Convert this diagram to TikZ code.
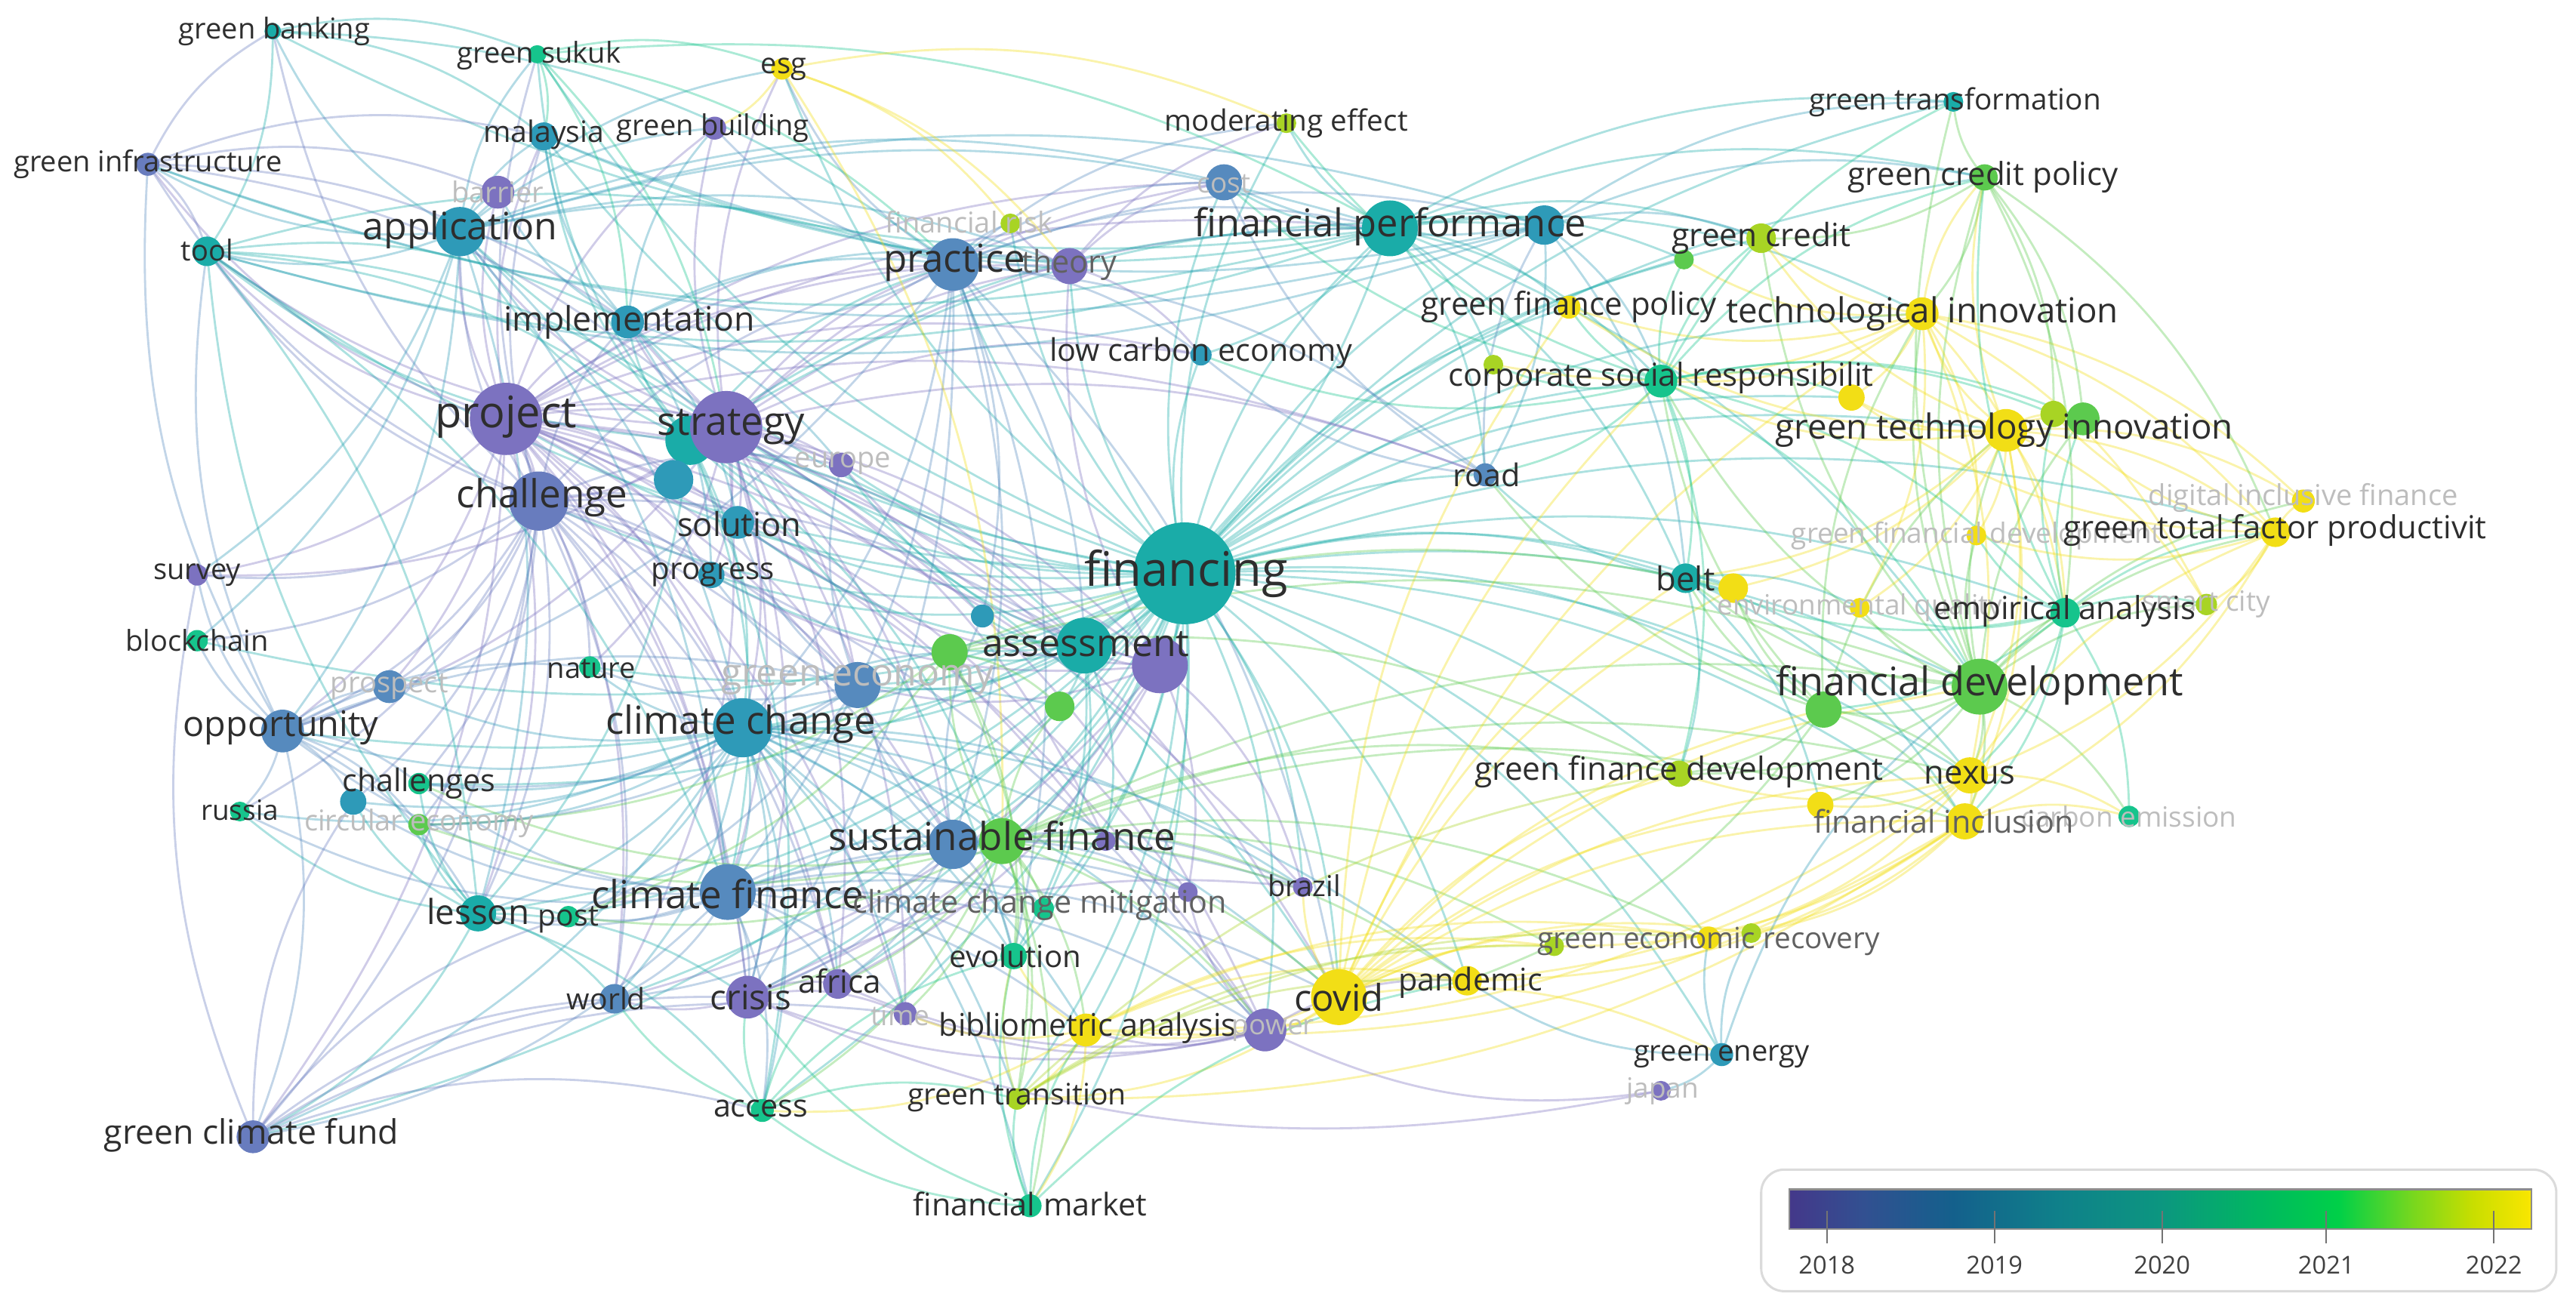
\documentclass[tikz,border=0pt]{standalone}
\usepackage{fontspec}
\setmainfont{Open Sans}
\definecolor{y18}{RGB}{124,114,192}
\definecolor{y185}{RGB}{104,124,190}
\definecolor{y19}{RGB}{86,138,190}
\definecolor{y195}{RGB}{46,154,184}
\definecolor{y20}{RGB}{26,172,168}
\definecolor{y205}{RGB}{22,196,140}
\definecolor{y21}{RGB}{92,202,78}
\definecolor{y215}{RGB}{168,212,36}
\definecolor{y22}{RGB}{242,222,22}
% legend bar colours
\definecolor{lgA}{RGB}{68,56,138}
\definecolor{lgB}{RGB}{50,80,145}
\definecolor{lgC}{RGB}{20,96,140}
\definecolor{lgD}{RGB}{15,128,138}
\definecolor{lgE}{RGB}{12,150,128}
\definecolor{lgF}{RGB}{0,185,95}
\definecolor{lgG}{RGB}{0,208,72}
\definecolor{lgH}{RGB}{120,215,30}
\definecolor{lgI}{RGB}{200,222,0}
\definecolor{lgJ}{RGB}{250,230,0}
\pgfdeclarehorizontalshading{yearbar}{100bp}{color(0bp)=(lgA); color(25bp)=(lgA); color(30bp)=(lgB); color(36bp)=(lgC); color(43bp)=(lgD); color(50bp)=(lgE); color(57bp)=(lgF); color(62bp)=(lgG); color(67bp)=(lgH); color(71bp)=(lgI); color(75bp)=(lgJ); color(100bp)=(lgJ)}
\pgfdeclarelayer{edges}
\pgfsetlayers{edges,main}
% one source, many links
\newcommand{\fan}[3]{\foreach \t in {#3}{\draw[link=#2] (#1.center) to (\t.center);}}

\begin{document}
\begin{tikzpicture}[x=1pt,y=-1pt,
  kw/.style={circle,fill=#1,inner sep=0pt,outer sep=0pt},
  dia/.style={minimum size=#1pt},
  lbl/.style={font=\fontsize{#1}{#1}\selectfont,text=black!82,inner sep=0pt},
  faint/.style={text=black!26},
  grey/.style={text=black!62},
  link/.style={draw=#1,draw opacity=0.36,line width=1.3pt,bend left=17}]
\useasboundingbox (0,0) rectangle (1568,795);

% terms
\node[kw=y20,dia=10] (gbank) at (166,19) {};
\node[kw=y205,dia=11] (gsukuk) at (327,33) {};
\node[kw=y22,dia=13] (esg) at (476,42) {};
\node[kw=y195,dia=17] (malaysia) at (331,83) {};
\node[kw=y18,dia=14] (gbuild) at (435,78) {};
\node[kw=y185,dia=14] (ginfra) at (90,100) {};
\node[kw=y20,dia=18] (tool) at (126,153) {};
\node[kw=y18,dia=20] (barrier) at (303,117) {};
\node[kw=y195,dia=30] (applic) at (280,141) {};
\node[kw=y195,dia=20] (impl) at (382,196) {};
\node[kw=y18,dia=44] (project) at (308,255) {};
\node[kw=y20,dia=30] (inv) at (420,268) {};
\node[kw=y195,dia=24] (modelx) at (410,292) {};
\node[kw=y18,dia=44] (strategy) at (442,260) {};
\node[kw=y18,dia=15] (europe) at (512,283) {};
\node[kw=y185,dia=36] (challenge) at (328,305) {};
\node[kw=y195,dia=20] (solution) at (449,318) {};
\node[kw=y195,dia=16] (progress) at (433,350) {};
\node[kw=y18,dia=13] (survey) at (120,350) {};
\node[kw=y205,dia=13] (blockchain) at (120,390) {};
\node[kw=y205,dia=13] (nature) at (359,406) {};
\node[kw=y19,dia=20] (prospect) at (237,418) {};
\node[kw=y19,dia=26] (opport) at (172,445) {};
\node[kw=y19,dia=28] (geconomy) at (522,417) {};
\node[kw=y195,dia=36] (climchg) at (452,443) {};
\node[kw=y195,dia=16] (chal2) at (215,488) {};
\node[kw=y205,dia=13] (challenges) at (255,477) {};
\node[kw=y205,dia=12] (russia) at (146,494) {};
\node[kw=y21,dia=13] (circular) at (255,502) {};
\node[kw=y20,dia=22] (lesson) at (291,556) {};
\node[kw=y205,dia=13] (post) at (346,558) {};
\node[kw=y19,dia=34] (climfin) at (443,543) {};
\node[kw=y19,dia=18] (world) at (374,608) {};
\node[kw=y18,dia=26] (crisis) at (455,607) {};
\node[kw=y18,dia=18] (africa) at (510,599) {};
\node[kw=y18,dia=14] (time) at (551,617) {};
\node[kw=y185,dia=20] (gcf) at (154,692) {};
\node[kw=y205,dia=14] (access) at (464,676) {};
\node[kw=y205,dia=14] (finmarket) at (627,734) {};
\node[kw=y215,dia=13] (gtrans) at (619,669) {};
\node[kw=y22,dia=20] (biblio) at (661,627) {};
\node[kw=y18,dia=26] (power) at (770,627) {};
\node[kw=y205,dia=16] (evolution) at (617,582) {};
\node[kw=y205,dia=13] (ccmitig) at (635,553) {};
\node[kw=y18,dia=12] (brazil) at (793,540) {};
\node[kw=y18,dia=12] (kw1) at (723,543) {};
\node[kw=y19,dia=30] (sustfin2) at (580,514) {};
\node[kw=y21,dia=28] (sustfin) at (610,512) {};
\node[kw=y18,dia=12] (kw2) at (673,512) {};
\node[kw=y22,dia=34] (covid) at (815,607) {};
\node[kw=y22,dia=18] (pandemic) at (893,597) {};
\node[kw=y215,dia=12] (kw3) at (946,576) {};
\node[kw=y22,dia=14] (gerecov) at (1040,571) {};
\node[kw=y215,dia=12] (kw4) at (1066,568) {};
\node[kw=y195,dia=14] (genergy) at (1048,642) {};
\node[kw=y18,dia=12] (japan) at (1011,664) {};
\node[kw=y20,dia=62] (financing) at (721,349) {};
\node[kw=y195,dia=14] (kw6) at (598,375) {};
\node[kw=y21,dia=22] (kw7) at (578,397) {};
\node[kw=y21,dia=18] (kw8) at (645,430) {};
\node[kw=y20,dia=34] (assess) at (660,393) {};
\node[kw=y18,dia=34] (kw5) at (706,405) {};
\node[kw=y19,dia=32] (practice) at (580,161) {};
\node[kw=y18,dia=22] (theory) at (651,162) {};
\node[kw=y215,dia=12] (finrisk) at (615,136) {};
\node[kw=y19,dia=22] (cost) at (745,111) {};
\node[kw=y215,dia=12] (modeff) at (783,75) {};
\node[kw=y20,dia=34] (finperf) at (846,139) {};
\node[kw=y195,dia=24] (kw9) at (940,137) {};
\node[kw=y195,dia=13] (lowcarb) at (731,216) {};
\node[kw=y19,dia=14] (road) at (904,289) {};
\node[kw=y20,dia=12] (gtransf) at (1189,62) {};
\node[kw=y21,dia=16] (gcpolicy) at (1208,108) {};
\node[kw=y215,dia=18] (gcredit) at (1072,145) {};
\node[kw=y21,dia=12] (kw10) at (1025,158) {};
\node[kw=y22,dia=14] (gfpolicy) at (955,187) {};
\node[kw=y22,dia=20] (techinn) at (1170,191) {};
\node[kw=y205,dia=20] (csr) at (1011,232) {};
\node[kw=y215,dia=12] (kw11) at (909,222) {};
\node[kw=y22,dia=16] (kw12) at (1127,242) {};
\node[kw=y22,dia=26] (gtinn) at (1221,262) {};
\node[kw=y215,dia=16] (kw13) at (1250,252) {};
\node[kw=y21,dia=20] (kw14) at (1268,255) {};
\node[kw=y22,dia=14] (dif) at (1402,305) {};
\node[kw=y22,dia=18] (gtfp) at (1385,324) {};
\node[kw=y22,dia=12] (gfdev2) at (1203,326) {};
\node[kw=y20,dia=18] (belt) at (1026,352) {};
\node[kw=y22,dia=18] (kw15) at (1055,358) {};
\node[kw=y22,dia=12] (envreg) at (1132,370) {};
\node[kw=y205,dia=18] (empir) at (1257,373) {};
\node[kw=y215,dia=13] (city) at (1343,368) {};
\node[kw=y21,dia=34] (findev) at (1205,418) {};
\node[kw=y21,dia=22] (kw16) at (1110,432) {};
\node[kw=y215,dia=16] (gfdev) at (1022,471) {};
\node[kw=y22,dia=16] (kw17) at (1108,490) {};
\node[kw=y22,dia=22] (nexus) at (1199,472) {};
\node[kw=y22,dia=22] (fininc) at (1196,500) {};
\node[kw=y205,dia=13] (cemission) at (1296,497) {};

% links
\begin{pgfonlayer}{edges}
\fan{financing}{y20}{project,strategy,inv,challenge,applic,practice,finperf,kw9,cost,lowcarb,road,belt,findev,kw16,gfdev,nexus,fininc,covid,pandemic,biblio,sustfin,sustfin2,climfin,climchg,assess,kw5,geconomy,opport,crisis,lesson,csr,techinn,gtinn,gcredit,gfpolicy,modeff,empir,gtfp,genergy,evolution,ccmitig,access,finmarket,gtrans,tool,impl,solution,progress,malaysia,gsukuk,blockchain,europe,africa,power,brazil,gerecov,theory,gcf,world,nature,post,challenges,gtransf,gcpolicy,esg,finrisk,kw15,kw12,kw10}
\fan{project}{y18}{applic,impl,strategy,challenge,solution,practice,tool,ginfra,opport,survey,climchg,climfin,crisis,lesson,barrier,gbuild,malaysia,europe,prospect,geconomy,cost,theory,finperf,assess,kw5,world,gcf,africa,power,sustfin2,brazil,time,progress,road,lowcarb,modelx,kw2,kw1}
\fan{strategy}{y18}{applic,impl,challenge,practice,theory,climchg,climfin,geconomy,opport,solution,progress,europe,gbuild,esg,cost,finperf,assess,kw5,crisis,africa,time,nature,survey,tool,lowcarb,power,covid,sustfin2,world,road,kw2}
\fan{inv}{y20}{applic,impl,practice,finperf,kw9,climchg,climfin,lesson,tool,gsukuk,malaysia,sustfin,assess,covid,evolution,access,kw6}
\fan{challenge}{y185}{applic,tool,ginfra,opport,survey,blockchain,prospect,climchg,climfin,lesson,crisis,world,gcf,practice,impl,solution,progress,nature,challenges,chal2,russia,circular,geconomy,assess,sustfin2,europe,malaysia,gsukuk,gbank,power,africa}
\fan{applic}{y195}{tool,ginfra,malaysia,gbank,gsukuk,impl,practice,barrier,gbuild,opport,climchg,climfin,lesson,finperf,cost,esg,blockchain,survey,kw9,theory}
\fan{practice}{y19}{theory,finrisk,cost,finperf,lowcarb,impl,gbuild,esg,climchg,sustfin2,assess,opport,climfin,crisis,evolution,road,covid,kw9,modeff,kw6}
\fan{finperf}{y20}{cost,modeff,gcredit,gfpolicy,csr,gtransf,techinn,lowcarb,road,belt,findev,tool,ginfra,gbank,malaysia,kw9,kw10,kw11,gcpolicy,assess}
\fan{kw9}{y195}{cost,gcredit,gtransf,road,csr,belt,tool,ginfra,malaysia,gcpolicy}
\fan{climchg}{y195}{climfin,sustfin,opport,lesson,world,crisis,africa,access,post,challenges,circular,russia,nature,evolution,ccmitig,biblio,covid,gcf,time,gtrans,finmarket,brazil,power,pandemic,chal2,prospect,kw7,kw8}
\fan{climfin}{y19}{lesson,post,world,crisis,africa,gcf,access,time,evolution,ccmitig,sustfin,brazil,power,opport,challenges,russia,covid,biblio,chal2,kw1}
\fan{sustfin}{y21}{ccmitig,evolution,covid,biblio,gtrans,pandemic,brazil,power,crisis,africa,gfdev,nexus,fininc,findev,gerecov,finmarket,access,time,kw7,kw8,kw3,post,circular,challenges}
\fan{sustfin2}{y19}{crisis,africa,world,evolution,kw1,brazil,geconomy,kw6}
\fan{opport}{y19}{survey,blockchain,prospect,russia,challenges,chal2,circular,lesson,gcf,ginfra,tool,nature,geconomy}
\fan{covid}{y22}{pandemic,biblio,gerecov,fininc,nexus,gfdev,findev,gtrans,power,brazil,genergy,belt,csr,kw3,kw4,kw17,kw16,kw15,gfpolicy,techinn}
\fan{findev}{y21}{empir,nexus,fininc,gtfp,gtinn,techinn,belt,envreg,city,cemission,gcpolicy,gcredit,csr,gfdev,dif,gtransf,kw14,kw16,kw17,gfdev2}
\fan{kw16}{y21}{gfdev,belt,nexus,fininc,gtinn,techinn,csr,road,kw15,pandemic}
\fan{gtinn}{y22}{techinn,gtfp,dif,empir,city,envreg,gfdev2,csr,gcredit,gcpolicy,nexus,fininc,belt,kw12,kw13,kw14,kw15,gfpolicy}
\fan{techinn}{y22}{gcredit,gfpolicy,csr,gcpolicy,gtfp,dif,empir,gfdev2,city,nexus,kw10,kw12,kw11,envreg}
\fan{csr}{y205}{gcredit,gfpolicy,gcpolicy,gtransf,belt,empir,findev,gfdev,road,modeff,kw10,kw11,kw12,kw13,kw14,cost,lowcarb}
\fan{empir}{y205}{gtfp,city,cemission,nexus,fininc,gcpolicy,belt,gfdev2,envreg,kw14,kw13,kw16}
\fan{gcpolicy}{y21}{gtransf,gcredit,gtfp,empir,techinn,kw14,kw13}
\fan{gtfp}{y22}{dif,city,nexus,kw13,kw12,fininc,gfdev2}
\fan{lesson}{y20}{gcf,world,post,crisis,access,tool,russia,circular,challenges,chal2}
\fan{gcf}{y185}{world,post,crisis,survey,access,time,chal2}
\fan{ginfra}{y185}{tool,malaysia,gbank,barrier,impl,strategy}
\fan{tool}{y20}{impl,strategy,climfin,lesson,practice,inv}
\fan{gbank}{y20}{gsukuk,tool,malaysia,practice}
\fan{gsukuk}{y205}{malaysia,impl,practice,strategy,finperf,esg}
\fan{esg}{y22}{gbuild,finrisk,modeff,sustfin,theory}
\fan{belt}{y20}{road,nexus,fininc,envreg,gfdev,kw15,kw17}
\fan{road}{y19}{cost,lowcarb,kw9}
\fan{nexus}{y22}{fininc,cemission,gtfp,gerecov,pandemic,gfdev,biblio,kw17}
\fan{fininc}{y22}{gerecov,pandemic,gtrans,biblio,cemission,kw4,kw3}
\fan{genergy}{y195}{japan,gerecov,pandemic,findev,kw4}
\fan{japan}{y18}{power,crisis}
\fan{power}{y18}{biblio,crisis,time,africa,pandemic,kw1}
\fan{biblio}{y22}{gtrans,evolution,finmarket,access,pandemic,gerecov,time,kw3}
\fan{finmarket}{y205}{gtrans,access,crisis,evolution,pandemic,biblio}
\fan{access}{y205}{crisis,gtrans,africa,world,evolution}
\fan{gtrans}{y215}{evolution,pandemic,gerecov,gfdev,kw3}
\fan{kw5}{y18}{assess,geconomy,solution,impl,europe,theory,brazil,kw1,crisis,africa,world,progress}
\fan{assess}{y20}{geconomy,kw6,kw7,kw8,solution,progress,europe,climchg,evolution,ccmitig,kw2}
\fan{kw7}{y21}{kw8,gfdev,kw15,findev,circular,post,evolution,gtrans}
\fan{geconomy}{y19}{europe,solution,progress,nature,circular,post,challenges}
\fan{impl}{y195}{solution,progress,barrier,malaysia,gbuild,practice,europe,theory}
\fan{theory}{y18}{finrisk,cost,lowcarb,modeff}
\fan{crisis}{y18}{africa,world,time,brazil}
\end{pgfonlayer}

% labels
\node[lbl=17.5] (t-gbank) at (167,19) {green banking};
\node[lbl=17.5] (t-gsukuk) at (328,34) {green sukuk};
\node[lbl=17.5] (t-esg) at (477,42) {esg};
\node[lbl=18] (t-malaysia) at (331,82) {malaysia};
\node[lbl=17.5] (t-gbuild) at (434,78) {green building};
\node[lbl=17.5] (t-ginfra) at (90,100) {green infrastructure};
\node[lbl=17.5] (t-tool) at (126,152) {tool};
\node[lbl=17.5,faint] (t-barrier) at (303,117) {barrier};
\node[lbl=23] (t-applic) at (280,140) {application};
\node[lbl=20.5] (t-impl) at (383,196) {implementation};
\node[lbl=26.5] (t-project) at (308,254) {project};
\node[lbl=24] (t-strategy) at (445,260) {strategy};
\node[lbl=17.5,faint] (t-europe) at (513,282) {europe};
\node[lbl=23.5] (t-challenge) at (330,303) {challenge};
\node[lbl=20] (t-solution) at (450,319) {solution};
\node[lbl=18.5] (t-progress) at (434,350) {progress};
\node[lbl=17.5] (t-survey) at (120,350) {survey};
\node[lbl=17.5] (t-blockchain) at (120,390) {blockchain};
\node[lbl=17.5] (t-nature) at (360,407) {nature};
\node[lbl=17.5,faint] (t-prospect) at (237,418) {prospect};
\node[lbl=21.5] (t-opport) at (171,443) {opportunity};
\node[lbl=23,faint] (t-geconomy) at (522,414) {green economy};
\node[lbl=23.5] (t-climchg) at (451,441) {climate change};
\node[lbl=19] (t-challenges) at (255,477) {challenges};
\node[lbl=17] (t-russia) at (146,493) {russia};
\node[lbl=17.5,faint] (t-circular) at (255,501) {circular economy};
\node[lbl=21] (t-lesson) at (291,555) {lesson};
\node[lbl=18] (t-post) at (346,560) {post};
\node[lbl=23.5] (t-climfin) at (443,544) {climate finance};
\node[lbl=18] (t-world) at (369,608) {world};
\node[lbl=21] (t-crisis) at (457,607) {crisis};
\node[lbl=19.5] (t-africa) at (511,597) {africa};
\node[lbl=17,faint] (t-time) at (548,618) {time};
\node[lbl=20.5] (t-gcf) at (153,691) {green climate fund};
\node[lbl=19] (t-access) at (463,675) {access};
\node[lbl=19] (t-finmarket) at (627,733) {financial market};
\node[lbl=18] (t-gtrans) at (619,668) {green transition};
\node[lbl=19] (t-biblio) at (662,626) {bibliometric analysis};
\node[lbl=17,faint] (t-power) at (775,627) {power};
\node[lbl=18.5] (t-evolution) at (618,582) {evolution};
\node[lbl=19,grey] (t-ccmitig) at (633,551) {climate change mitigation};
\node[lbl=17.5] (t-brazil) at (794,539) {brazil};
\node[lbl=23.5] (t-sustfin) at (610,509) {sustainable finance};
\node[lbl=22.5] (t-covid) at (815,607) {covid};
\node[lbl=19] (t-pandemic) at (895,598) {pandemic};
\node[lbl=17.8,grey] (t-gerecov) at (1040,573) {green economic recovery};
\node[lbl=17.5] (t-genergy) at (1048,643) {green energy};
\node[lbl=17,faint] (t-japan) at (1012,664) {japan};
\node[lbl=29] (t-financing) at (722,349) {financing};
\node[lbl=23] (t-assess) at (661,392) {assessment};
\node[lbl=23.5] (t-practice) at (581,160) {practice};
\node[lbl=19,grey] (t-theory) at (651,161) {theory};
\node[lbl=17.5,faint] (t-finrisk) at (590,135) {financial risk};
\node[lbl=17,faint] (t-cost) at (745,112) {cost};
\node[lbl=17.8] (t-modeff) at (783,75) {moderating effect};
\node[lbl=23.3] (t-finperf) at (846,138) {financial performance};
\node[lbl=19] (t-lowcarb) at (731,215) {low carbon economy};
\node[lbl=19] (t-road) at (905,289) {road};
\node[lbl=17.8] (t-gtransf) at (1190,62) {green transformation};
\node[lbl=19.3] (t-gcpolicy) at (1207,108) {green credit policy};
\node[lbl=19.5] (t-gcredit) at (1072,145) {green credit};
\node[lbl=19.3] (t-gfpolicy) at (955,187) {green finance policy};
\node[lbl=21] (t-techinn) at (1170,191) {technological innovation};
\node[lbl=19.3] (t-csr) at (1011,230) {corporate social responsibilit};
\node[lbl=21] (t-gtinn) at (1220,262) {green technology innovation};
\node[lbl=17.5,faint] (t-dif) at (1402,303) {digital inclusive finance};
\node[lbl=17,faint] (t-gfdev2) at (1203,326) {green financial development};
\node[lbl=19.3] (t-gtfp) at (1385,323) {green total factor productivit};
\node[lbl=17,faint] (t-envreg) at (1132,370) {environmental quality};
\node[lbl=17,faint] (t-city) at (1343,368) {smart city};
\node[lbl=17,faint] (t-cemission) at (1296,497) {carbon emission};
\node[lbl=19.3] (t-empir) at (1257,372) {empirical analysis};
\node[lbl=20] (t-belt) at (1026,352) {belt};
\node[lbl=24] (t-findev) at (1205,417) {financial development};
\node[lbl=19.5] (t-gfdev) at (1022,470) {green finance development};
\node[lbl=20] (t-nexus) at (1199,472) {nexus};
\node[lbl=19,grey] (t-fininc) at (1183,500) {financial inclusion};

% year legend
\draw[black!14,line width=1.4pt,rounded corners=14pt,fill=white] (1072,712) rectangle (1556,786);
\fill[shading=yearbar] (1089,724) rectangle (1541,748);
\draw[black!45,line width=1pt] (1089,724) rectangle (1541,748);
\foreach \x/\yr in {1112/2018,1214/2019,1316/2020,1416/2021,1518/2022}{
  \draw[black!55,line width=0.9pt] (\x,737) -- (\x,757);
  \node[lbl=15,text=black!75] (yr\yr) at (\x,770) {\yr};
}
\end{tikzpicture}
\end{document}
